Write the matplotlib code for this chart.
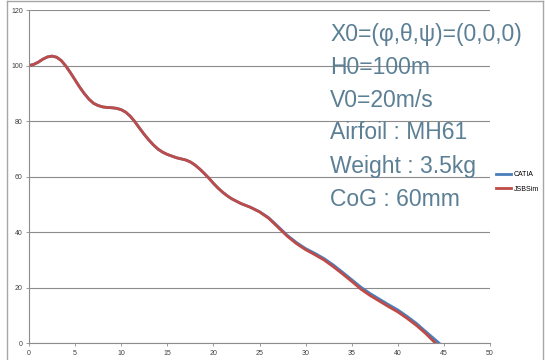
import matplotlib
matplotlib.use("Agg")
import matplotlib.pyplot as plt
from matplotlib.lines import Line2D

# Data
jsb_x = [0, 0.5, 1.0, 1.5, 2.0, 2.5, 3.0, 3.5, 4.0, 4.5, 5.0, 5.5, 6.0, 6.5, 7.0, 7.5,
         8.0, 8.5, 9.0, 9.5, 10.0, 10.5, 11.0, 11.5, 12.0, 12.5, 13.0, 13.5, 14.0, 14.5,
         15.0, 16.0, 17.0, 17.5, 18.0, 18.5, 19.0, 19.5, 20.0, 20.5, 21.0, 21.5, 22.0,
         23.0, 24.0, 25.0, 26.0, 27.0, 28.0, 29.0, 30.0, 31.0, 32.0, 33.0, 34.0, 35.0,
         36.0, 37.0, 38.0, 39.0, 40.0, 41.0, 42.0, 43.0, 44.1]
jsb_y = [100, 100.4, 101.2, 102.3, 103.1, 103.4, 103.0, 101.8, 99.8, 97.4, 94.8, 92.2,
         89.9, 87.9, 86.4, 85.6, 85.1, 84.9, 84.8, 84.6, 84.1, 83.2, 81.7, 79.7, 77.4,
         75.2, 73.2, 71.4, 69.9, 68.8, 68.0, 66.8, 66.0, 65.3, 64.2, 62.8, 61.2, 59.5,
         57.6, 55.9, 54.4, 53.1, 52.0, 50.3, 49.0, 47.3, 45.0, 41.8, 38.6, 35.9, 33.7,
         31.9, 30.0, 27.6, 25.0, 22.3, 19.5, 17.2, 15.2, 13.2, 11.3, 9.0, 6.5, 3.6, 0]
cat_x = [0, 0.5, 1.0, 1.5, 2.0, 2.5, 3.0, 3.5, 4.0, 4.5, 5.0, 5.5, 6.0, 6.5, 7.0, 7.5,
         8.0, 8.5, 9.0, 9.5, 10.0, 10.5, 11.0, 11.5, 12.0, 12.5, 13.0, 13.5, 14.0, 14.5,
         15.0, 16.0, 17.0, 17.5, 18.0, 18.5, 19.0, 19.5, 20.0, 20.5, 21.0, 21.5, 22.0,
         23.0, 24.0, 25.0, 26.0, 27.0, 28.0, 29.0, 30.0, 31.0, 32.0, 33.0, 34.0, 35.0,
         36.0, 37.0, 38.0, 39.0, 40.0, 41.0, 42.0, 43.0, 44.5]
cat_y = [100, 100.4, 101.2, 102.3, 103.1, 103.4, 103.0, 101.8, 99.8, 97.4, 94.8, 92.2,
         89.9, 87.9, 86.4, 85.6, 85.1, 84.9, 84.8, 84.6, 84.1, 83.2, 81.7, 79.7, 77.4,
         75.2, 73.2, 71.4, 69.9, 68.8, 68.0, 66.8, 66.0, 65.3, 64.2, 62.8, 61.2, 59.5,
         57.6, 55.9, 54.4, 53.1, 52.0, 50.3, 49.0, 47.4, 45.2, 42.1, 38.9, 36.3, 34.1,
         32.4, 30.5, 28.2, 25.6, 22.9, 20.2, 17.9, 15.9, 13.9, 12.0, 9.7, 7.2, 4.3, 0]

series_names = ["CATIA", "JSBSim"]
x_ticks = [0, 5, 10, 15, 20, 25, 30, 35, 40, 45, 50]
y_ticks = [0, 20, 40, 60, 80, 100, 120]
info_lines = ["X0=(φ,θ,ψ)=(0,0,0)", "H0=100m", "V0=20m/s", "Airfoil : MH61",
              "Weight : 3.5kg", "CoG : 60mm"]

plt.rcParams['font.family'] = ['Liberation Sans', 'DejaVu Sans']

W, H = 545, 360
fig = plt.figure(figsize=(W/100, H/100), dpi=100)

def fx(px):
    return px / W

def fy(py):
    return 1 - py / H

# outer chart frame
for xs, ys in [((6.5, 6.5), (1, 362)), ((6.5, 543), (1, 1)), ((543, 543), (1, 362))]:
    fig.add_artist(Line2D([fx(v) for v in xs], [fy(v) for v in ys], color='#a6a6a6',
                          lw=1.0, transform=fig.transFigure))

ax = fig.add_axes([fx(29), fy(343.3), (490 - 29)/W, (343.3 - 10)/H])

ax.plot(cat_x, cat_y, color='#4A7EBB', lw=2.0, label=series_names[0])
ax.plot(jsb_x, jsb_y, color='#BE4B48', lw=2.0, label=series_names[1])

ax.set_xlim(0, 50)
ax.set_ylim(0, 120)
ax.set_xticks(x_ticks)
ax.set_yticks(y_ticks)
ax.grid(axis='y', color='#8c8c8c', lw=0.8)
ax.set_axisbelow(True)
for s in ['top', 'right']:
    ax.spines[s].set_visible(False)
for s in ['left', 'bottom']:
    ax.spines[s].set_color('#8c8c8c')
    ax.spines[s].set_linewidth(0.8)
ax.tick_params(axis='both', labelsize=5, colors='#8c8c8c', labelcolor='#404040',
               length=2, width=0.6, pad=2.5)

for i, t in enumerate(info_lines):
    fig.text(fx(330), fy(40.5 + i*33), t, fontsize=16.5, color='#5B7F95',
             va='baseline', ha='left')

leg = fig.legend(loc='center left', bbox_to_anchor=(fx(496), fy(182)), frameon=False,
                 fontsize=5, handlelength=2.2, handletextpad=0.3, labelspacing=1.1,
                 borderpad=0, borderaxespad=0)

fig.savefig('out.png', dpi=100)
